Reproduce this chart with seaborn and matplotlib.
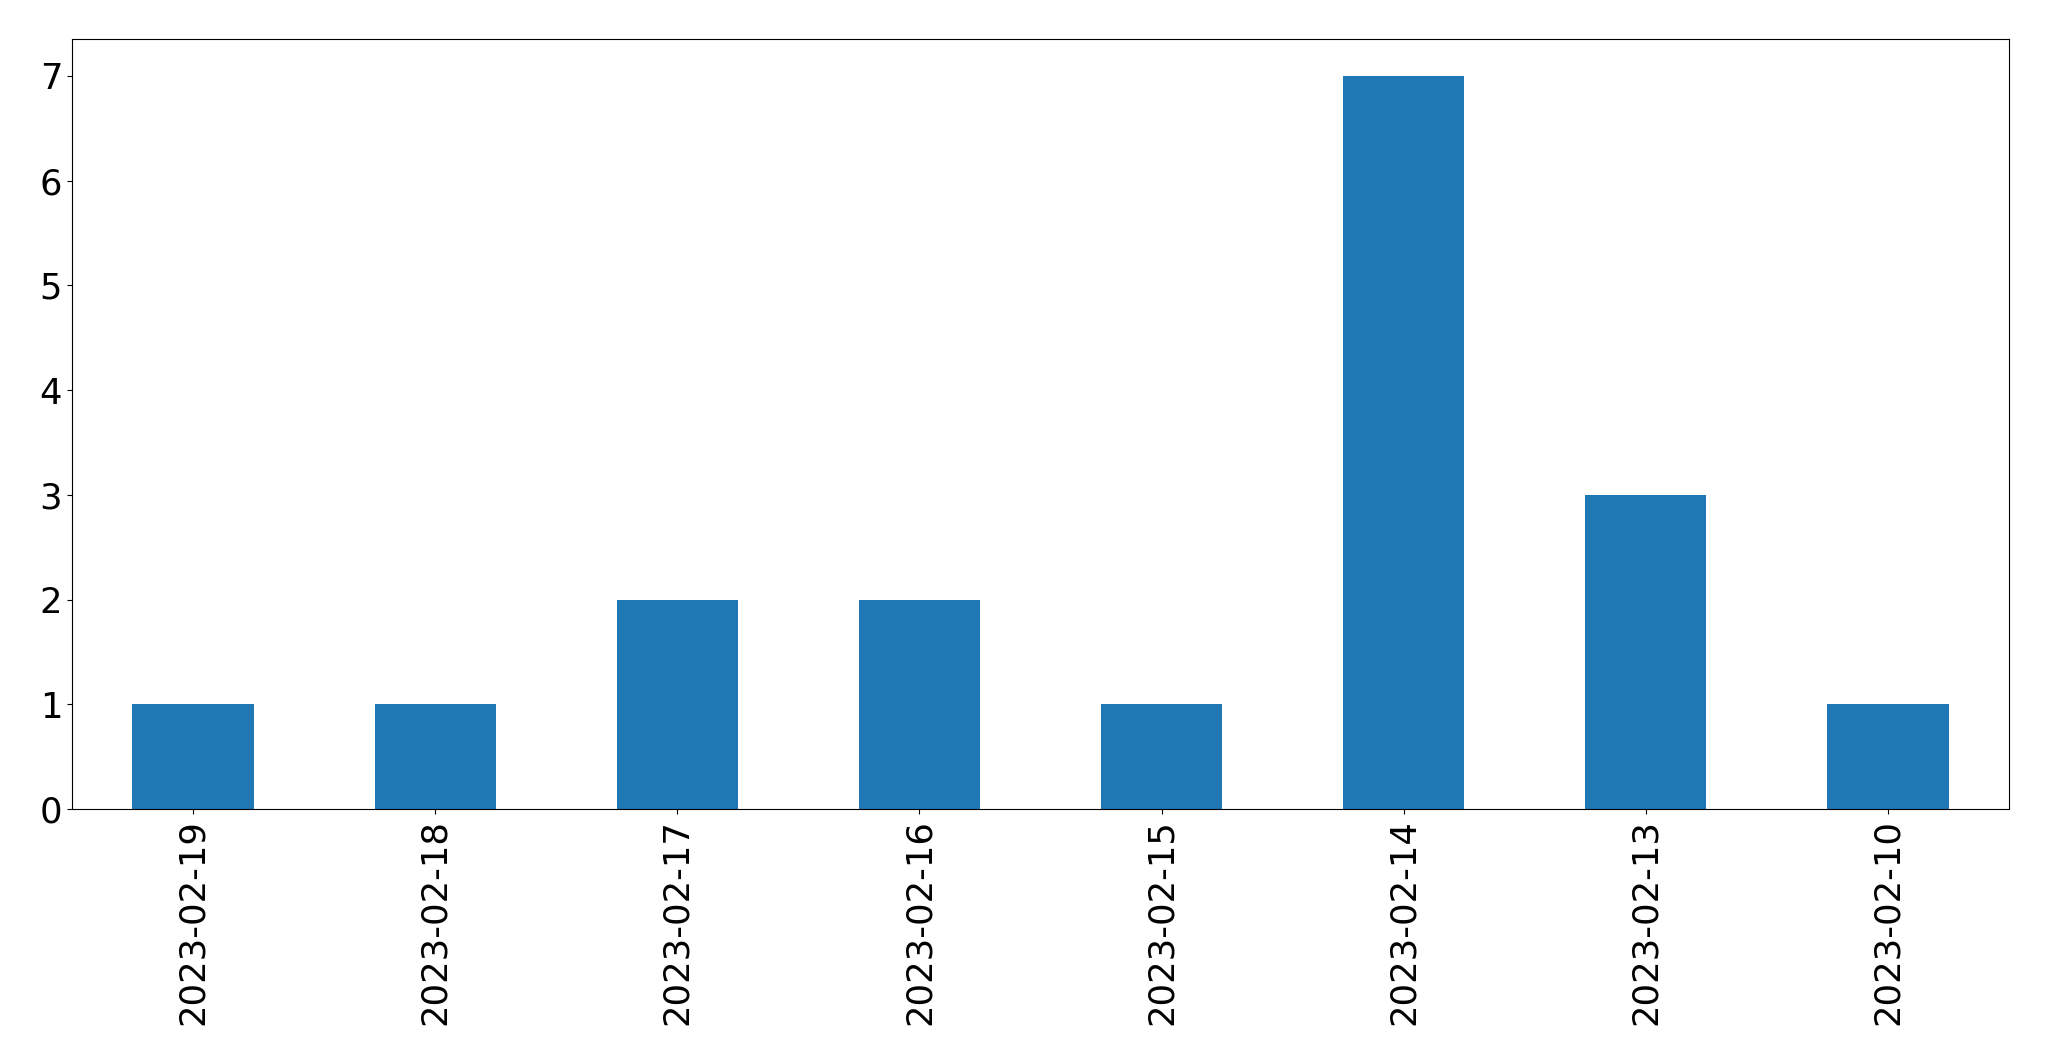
import pandas as pd
import matplotlib
matplotlib.use("Agg")
import matplotlib.pyplot as plt
import seaborn as sns

# DATA

dates = [
    '2023-02-19',
    '2023-02-18',
    '2023-02-17',
    '2023-02-16',
    '2023-02-15',
    '2023-02-14',
    '2023-02-13',
    '2023-02-10'
]
counts = [1, 1, 2, 2, 1, 7, 3, 1]

df = pd.DataFrame({'date': dates, 'count': counts})

# PLOT

fig = plt.figure(figsize=(20.49, 10.61), dpi=100)
ax = fig.add_axes([0.0351, 0.2375, 0.9454, 0.7255])

sns.barplot(
    x='date',
    y='count',
    data=df,
    order=dates,
    color='#1f77b4',
    saturation=1,
    width=0.5,
    ax=ax
)

ax.set_xlim(-0.5, len(dates) - 0.5)
ax.set_ylim(0, max(counts) * 1.05)
ax.set_xlabel("")
ax.set_ylabel("")
ax.tick_params(axis='both', labelsize=25.5)
ax.tick_params(axis='x', labelrotation=90)

plt.savefig("out.png", dpi=100)
